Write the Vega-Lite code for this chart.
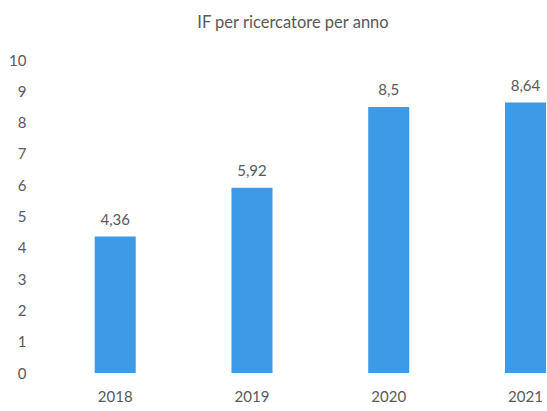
{
  "$schema": "https://vega.github.io/schema/vega-lite/v6.json",
  "autosize": {"type": "none"},
  "padding": {"left": 40, "top": 60, "right": 1, "bottom": 38},
  "width": 506,
  "height": 313,
  "background": "white",
  "config": {
    "view": {"stroke": null},
    "locale": {"number": {"decimal": ",", "thousands": ".", "grouping": [3], "currency": ["€", ""]}},
    "font": "Lato"
  },
  "title": {"text": "IF per ricercatore per anno", "fontSize": 16.5, "fontWeight": "normal", "color": "#595959", "font": "Lato", "offset": 22},
  "data": {"values": [
    {"anno": "2018", "valore": 4.36},
    {"anno": "2019", "valore": 5.92},
    {"anno": "2020", "valore": 8.5},
    {"anno": "2021", "valore": 8.64}
  ]},
  "encoding": {
    "x": {"field": "anno", "type": "nominal", "title": null,
      "scale": {"paddingInner": 0.7, "paddingOuter": 0.2, "align": 1},
      "axis": {"labelAngle": 0, "domain": false, "ticks": false, "labelPadding": 16, "labelFontSize": 15, "labelColor": "#595959", "labelFont": "Lato"}},
    "y": {"field": "valore", "type": "quantitative", "title": null,
      "scale": {"domain": [0, 10], "nice": false},
      "axis": {"values": [0,1,2,3,4,5,6,7,8,9,10], "grid": false, "domain": false, "ticks": false, "labelPadding": 14, "labelFontSize": 15, "labelColor": "#595959", "labelFont": "Lato"}}
  },
  "layer": [
    {"mark": {"type": "bar", "color": "#3d9ae6"}},
    {"mark": {"type": "text", "baseline": "bottom", "dy": -9, "fontSize": 15, "color": "#595959", "font": "Lato"},
     "encoding": {"text": {"field": "valore", "type": "quantitative", "format": ".3~g"}}}
  ]
}
